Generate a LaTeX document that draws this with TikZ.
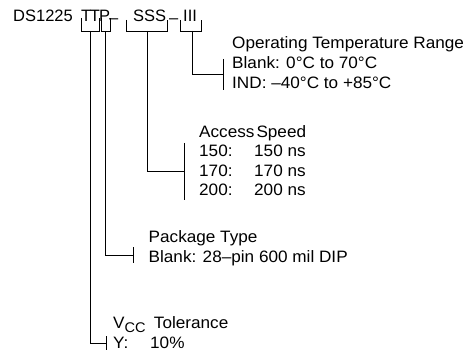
\documentclass[tikz,border=0pt]{standalone}
\usepackage{fontspec}
\setmainfont{Liberation Sans}[FakeStretch=1.04]
\newfontfamily\topfont{Liberation Sans}
\begin{document}
\begin{tikzpicture}[x=1pt,y=-1pt,
  lbl/.style={inner sep=0pt, anchor=base west, font=\fontsize{16.5}{20}\selectfont},
  toplbl/.style={inner sep=0pt, anchor=base west, font=\topfont\fontsize{16.5}{20}\selectfont},
  wire/.style={line width=0.85pt, line join=miter, line cap=butt},
]
\useasboundingbox (0,0) rectangle (470,355);
% ---- part number line
\node[toplbl] (ds)  at (13,22)  {DS1225};
\node[toplbl] (tt)  at (81,22)  {T\kern-1.5pt T};
\node[toplbl] (p)   at (99,22)  {P};
\node[toplbl] (d1)  at (109,22) {\raisebox{-1.5pt}{–}};
\node[toplbl] (sss) at (133,22) {SSS};
\node[toplbl] (d2)  at (169,22) {\raisebox{-1.5pt}{–}};
\node[toplbl] (iii) at (183,22) {III};
% ---- brackets under the fields
\draw[wire] (81,18) |- (99.8,31) -- (99.8,18);
\draw[wire] (101.2,18) |- (110.5,31) -- (110.5,18);
\draw[wire] (126.7,20) |- (167.3,31) -- (167.3,20);
\draw[wire] (180,20) |- (201.7,31) -- (201.7,20);
% ---- bracket centres
\coordinate (ttc)  at (90,31);
\coordinate (pc)   at (105.7,31);
\coordinate (sssc) at (147,31);
\coordinate (iiic) at (192,31);
% ---- ticks (centres)
\coordinate (tkV) at (106,343);
\coordinate (tkP) at (133,255);
\coordinate (tkS) at (184,171.5);
\coordinate (tkI) at (223,74.5);
% ---- connectors
\draw[wire] (ttc)  |- (tkV);
\draw[wire] (pc)   |- (tkP);
\draw[wire] (sssc) |- (tkS);
\draw[wire] (iiic) |- (tkI);
% ---- tick marks
\draw[wire] ([yshift=7pt]tkV) -- ([yshift=-7pt]tkV);
\draw[wire] ([yshift=8pt]tkP) -- ([yshift=-8pt]tkP);
\draw[wire] ([yshift=28.5pt]tkS) -- ([yshift=-28.5pt]tkS);
\draw[wire] ([yshift=15.5pt]tkI) -- ([yshift=-15.5pt]tkI);
% ---- operating temperature
\node[lbl] (t0) at (232,49) {Operating Temperature Range};
\node[lbl] (t1) at (232,69) {Blank: 0°C to 70°C};
\node[lbl] (t2) at (232,89) {IND: –40°C to +85°C};
% ---- access speed
\node[lbl] (s0)  at (199,138) {{\spaceskip=2pt Access Speed}};
\node[lbl] (s1a) at (199,157) {150:};
\node[lbl] (s1b) at (254,157) {150 ns};
\node[lbl] (s2a) at (199,176) {170:};
\node[lbl] (s2b) at (254,176) {170 ns};
\node[lbl] (s3a) at (199,195) {200:};
\node[lbl] (s3b) at (254,195) {200 ns};
% ---- package type
\node[lbl] (p0) at (148.5,242) {Package Type};
\node[lbl] (p1) at (148.5,262) {Blank: 28–pin 600 mil DIP};
% ---- VCC tolerance
\node[lbl] (v0) at (113,328) {V\raisebox{-4pt}{\fontsize{14}{14}\selectfont CC}\hspace{3.5pt} Tolerance};
\node[lbl] (v1a) at (113,348) {Y:};
\node[lbl] (v1b) at (150,348) {10\%};
\end{tikzpicture}
\end{document}
